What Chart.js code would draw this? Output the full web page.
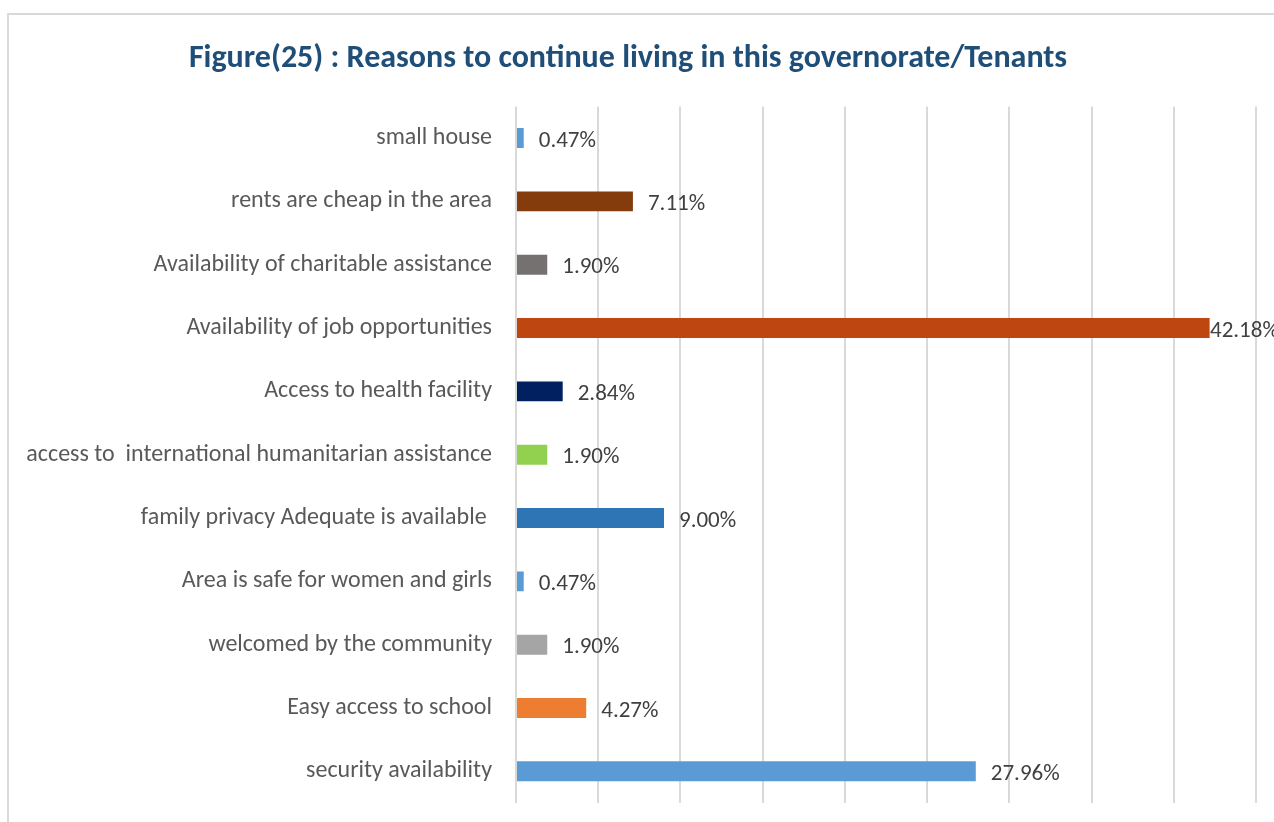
<!DOCTYPE html>
<html>
<head>
<meta charset="utf-8">
<script src="https://cdn.jsdelivr.net/npm/chart.js@4.4.1/dist/chart.umd.min.js"></script>
<style>
  html, body { margin: 0; padding: 0; background: #ffffff; width: 1274px; height: 822px; overflow: hidden; }
  #frame { position: absolute; left: 7px; top: 13px; width: 1300px; height: 900px; border-left: 2px solid #d9d9d9; border-top: 2px solid #d9d9d9; }
  #wrap { position: absolute; left: 0; top: 0; width: 1274px; height: 822px; }
</style>
</head>
<body>
<div id="frame"></div>
<div id="wrap"><canvas id="c" width="1274" height="822"></canvas></div>
<script>
const titleText = "Figure(25) : Reasons to continue living in this governorate/Tenants";
const categories = [
  "small house",
  "rents are cheap in the area",
  "Availability of charitable assistance",
  "Availability of job opportunities",
  "Access to health facility",
  "access to  international humanitarian assistance",
  "family privacy Adequate is available ",
  "Area is safe for women and girls",
  "welcomed by the community",
  "Easy access to school",
  "security availability"
];
const values = [0.47, 7.11, 1.90, 42.18, 2.84, 1.90, 9.00, 0.47, 1.90, 4.27, 27.96];
const barColors = ["#5B9BD5", "#843C0C", "#767171", "#BE4610", "#002060", "#92D050", "#2E75B6", "#5B9BD5", "#A5A5A5", "#ED7D31", "#5B9BD5"];
const xMin = 0, xMax = 45, xStep = 5;

const FONT = "Carlito, Lato, 'Liberation Sans', sans-serif";

const valueLabels = {
  id: 'valueLabels',
  afterDatasetsDraw(chart) {
    const ctx = chart.ctx;
    const meta = chart.getDatasetMeta(0);
    const area = chart.chartArea;
    ctx.save();
    ctx.font = "23px " + FONT;
    ctx.fillStyle = "#404040";
    ctx.textAlign = "left";
    ctx.textBaseline = "middle";
    meta.data.forEach((bar, i) => {
      const txt = values[i].toFixed(2) + "%";
      let x = bar.x + 15;
      x = Math.min(x, area.right - 46);
      ctx.fillText(txt, x, bar.y + 3);
    });
    ctx.restore();
  }
};

new Chart(document.getElementById('c'), {
  type: 'bar',
  data: {
    labels: categories,
    datasets: [{
      data: values,
      backgroundColor: barColors,
      borderWidth: 0,
      barPercentage: 0.315,
      categoryPercentage: 1.0
    }]
  },
  options: {
    indexAxis: 'y',
    responsive: false,
    animation: false,
    layout: { padding: { left: 0, right: 18, top: 0, bottom: 19 } },
    plugins: {
      legend: { display: false },
      tooltip: { enabled: false },
      title: {
        display: true,
        text: titleText,
        color: "#1F4E79",
        font: { family: FONT, size: 32, weight: 'bold', lineHeight: 1.2 },
        padding: { top: 40, bottom: 28 }
      }
    },
    scales: {
      x: {
        min: xMin, max: xMax,
        ticks: { display: false, stepSize: xStep },
        grid: { color: "#d9d9d9", lineWidth: 2, drawTicks: false },
        border: { display: false },
        afterFit(scale) { scale.height = 0; scale.paddingLeft = 0; scale.paddingRight = 0; }
      },
      y: {
        ticks: { color: "#595959", font: { family: FONT, size: 24 }, padding: 24 },
        grid: { display: false, drawTicks: false },
        border: { display: false },
        afterFit(scale) { scale.width = 516; scale.paddingTop = 0; scale.paddingBottom = 0; }
      }
    }
  },
  plugins: [valueLabels]
});
</script>
</body>
</html>
